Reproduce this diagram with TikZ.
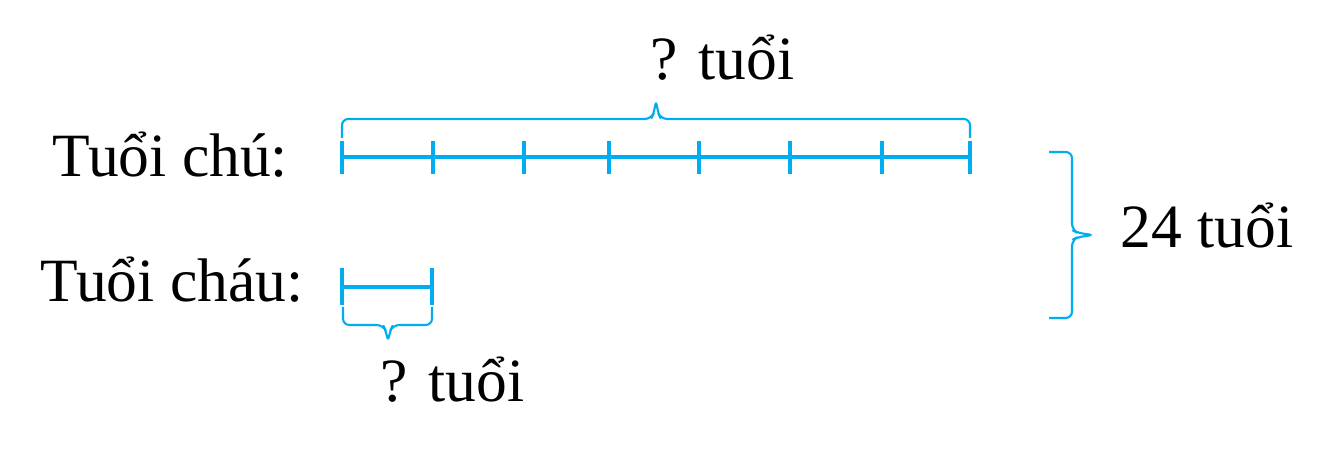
\documentclass[tikz,border=0pt]{standalone}
\usepackage{fontspec}
\setmainfont{Liberation Serif}
\definecolor{barblue}{RGB}{0,174,239}

\begin{document}
\begin{tikzpicture}[x=0.01cm,y=-0.01cm,
	bar/.style={barblue,line width=1.15pt},
	tick/.style={barblue,line width=1.15pt},
	brc/.style={barblue,line width=0.6pt,rounded corners=1.8pt},
	lbl/.style={inner sep=0pt,anchor=base west,font=\fontsize{17.5}{21}\selectfont}]
	\useasboundingbox (0,0) rectangle (1333,456);
	% labels
	\node (chu) [lbl] at (52,177) {Tuổi chú:};
	\node (chau) [lbl] at (40,302) {Tuổi cháu:};
	% uncle's bar
	\coordinate (A0) at (342,157);
	\coordinate (A7) at (970,157);
	\draw[bar] (A0) -- (A7);
	\foreach \x in {342,433,524,609,699,790,882,970}
		\draw[tick] (\x,141) -- (\x,174);
	% nephew's bar
	\coordinate (B0) at (342,287);
	\coordinate (B1) at (432,287);
	\draw[bar] (B0) -- (B1);
	\foreach \x in {342,432}
		\draw[tick] (\x,268) -- (\x,305);
	% top brace
	\coordinate (T0) at (342,138);
	\coordinate (T1) at (970,138);
	\coordinate (Ttip) at (656,100);
	\draw[brc] (T0) |- (651,119) -- (654,113) -- (Ttip) -- (658,113) -- (661,119) -| (T1);
	\node (top) [lbl] at (650,80) {? tuổi};
	% bottom brace
	\coordinate (S0) at (343,307);
	\coordinate (S1) at (432,307);
	\coordinate (Stip) at (388,342);
	\draw[brc] (S0) |- (383,325) -- (386,331) -- (Stip) -- (390,331) -- (393,325) -| (S1);
	\node (bot) [lbl] at (380,402) {? tuổi};
	% right brace
	\coordinate (R0) at (1049,152);
	\coordinate (R1) at (1049,318);
	\coordinate (Rtip) at (1094,235);
	\draw[brc] (R0) -| (1072,230) -- (1078,233) -- (Rtip) -- (1078,237) -- (1072,240) |- (R1);
	\node (sum) [lbl] at (1120,248) {24 tuổi};
\end{tikzpicture}
\end{document}
